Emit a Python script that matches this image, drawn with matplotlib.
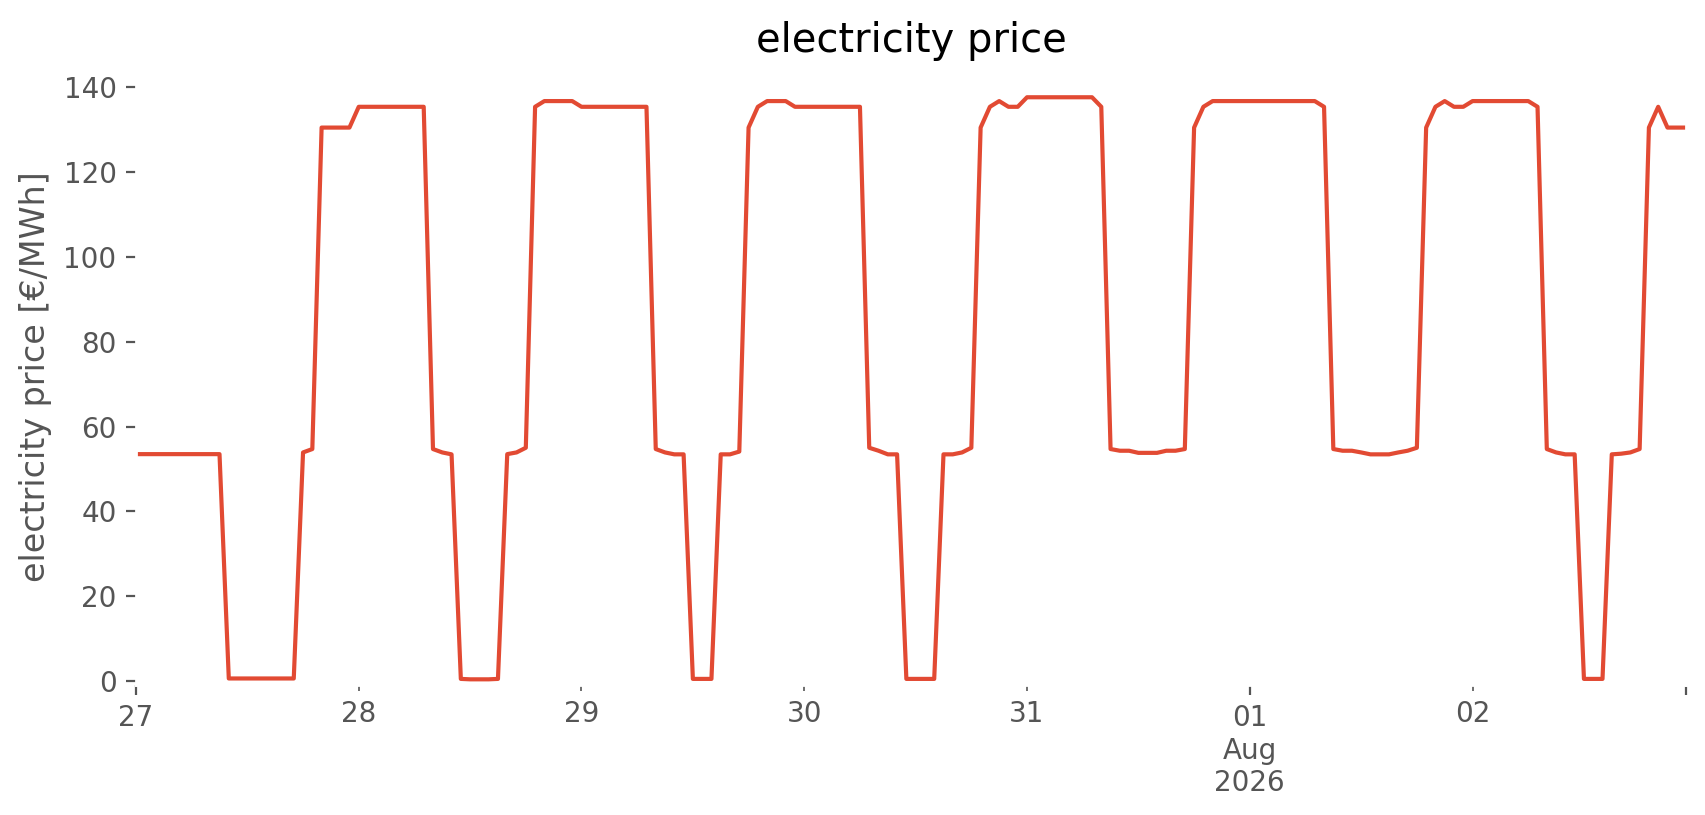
"""Hourly electricity price over one week (ggplot look, white panel)."""
import matplotlib

matplotlib.use("Agg")
import matplotlib.pyplot as plt
import pandas as pd

# hourly prices [€/MWh], one list per day, 00:00 .. 23:00
jul_27 = [53.5, 53.5, 53.5, 53.5, 53.5, 53.5, 53.5, 53.5, 53.5, 53.5,
          0.6, 0.6, 0.6, 0.6, 0.6, 0.6, 0.6, 0.6,
          53.9, 54.7, 130.5, 130.5, 130.5, 130.5]
jul_28 = [135.4, 135.4, 135.4, 135.4, 135.4, 135.4, 135.4, 135.4,
          54.7, 53.9, 53.45, 0.5, 0.4, 0.4, 0.4, 0.5,
          53.5, 53.9, 55.0, 135.4, 136.75, 136.75, 136.75, 136.75]
jul_29 = [135.4, 135.4, 135.4, 135.4, 135.4, 135.4, 135.4, 135.4,
          54.7, 53.9, 53.45, 53.45, 0.5, 0.5, 0.5, 53.45,
          53.45, 54.1, 130.5, 135.4, 136.75, 136.75, 136.75, 135.4]
jul_30 = [135.4, 135.4, 135.4, 135.4, 135.4, 135.4, 135.4, 55.0,
          54.3, 53.45, 53.45, 0.5, 0.5, 0.5, 0.5, 53.45,
          53.45, 53.9, 55.0, 130.5, 135.4, 136.75, 135.4, 135.4]
jul_31 = [137.65, 137.65, 137.65, 137.65, 137.65, 137.65, 137.65, 137.65,
          135.4, 54.7, 54.3, 54.3, 53.8, 53.8, 53.8, 54.3,
          54.3, 54.7, 130.5, 135.4, 136.75, 136.75, 136.75, 136.75]
aug_01 = [136.75, 136.75, 136.75, 136.75, 136.75, 136.75, 136.75, 136.75,
          135.4, 54.7, 54.3, 54.3, 53.9, 53.45, 53.45, 53.45,
          53.9, 54.3, 55.0, 130.5, 135.4, 136.75, 135.4, 135.4]
aug_02 = [136.75, 136.75, 136.75, 136.75, 136.75, 136.75, 136.75, 135.4,
          54.7, 53.9, 53.45, 53.45, 0.5, 0.5, 0.5, 53.45,
          53.6, 53.9, 54.7, 130.5, 135.4, 130.5, 130.5, 130.5]

start = "2026-07-27 00:00"
prices = jul_27 + jul_28 + jul_29 + jul_30 + jul_31 + aug_01 + aug_02

plt.style.use("ggplot")
plt.rcParams["axes.facecolor"] = "white"

index = pd.date_range(start, periods=len(prices), freq="h")
series = pd.Series(prices, index=index)

fig = plt.figure(figsize=(1706 / 200, 815 / 200), dpi=200)
ax = fig.add_axes([0.0797, 0.1595, 0.9086, 0.7566])
series.plot(ax=ax)

ax.set_ylim(-0.94, 144.46)
ax.set_title("electricity price")
ax.set_ylabel("electricity price [€/MWh]")

fig.savefig("out.png", dpi=200)
